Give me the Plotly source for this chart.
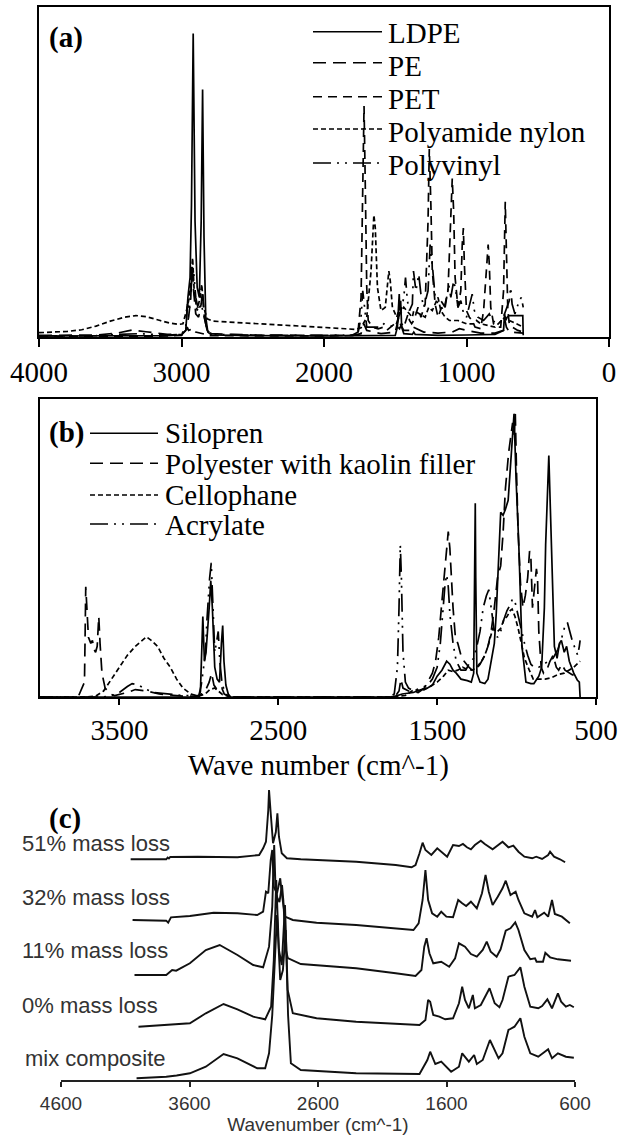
import plotly.graph_objects as go

W, H = 620, 1135

# ---------------- Panel (a): wavenumber (cm^-1), relative absorbance ----------------
a_ldpe = [(4000,0.3),(3500,0.3),(3100,0.4),(3000,0.6),(2970,2),(2955,12),(2940,18),(2930,40),(2918,92),
          (2905,35),(2890,15),(2875,12),(2862,35),(2852,75),(2842,30),(2830,6),(2815,1.5),(2790,0.6),
          (2500,0.4),(2000,0.3),(1800,0.3),(1500,0.5),(1485,3),(1472,13),(1468,8),(1462,11),(1455,3),
          (1440,1),(1380,0.8),(1370,1.5),(1360,0.8),(1200,0.5),(1000,0.6),(800,0.8),(740,2),(733,7),
          (725,5),(715,6),(700,6.5),(640,6.5),(605,6.5),(602,0.5)]
a_pe = [(4000,0.5),(3600,0.6),(3450,1.2),(3350,2.1),(3250,1.6),(3100,0.8),(3000,0.7),(2970,2),(2950,6),
        (2935,12),(2925,22),(2915,14),(2900,7),(2880,6),(2862,10),(2852,14),(2840,6),(2820,2),(2790,1),
        (2500,0.6),(2000,0.5),(1800,0.5),(1740,1),(1720,4),(1700,2),(1600,1),(1500,1.5),(1475,6),
        (1465,4),(1440,2),(1380,2),(1375,3),(1300,1.5),(1200,1.2),(1100,1.5),(1050,2.5),(1000,2),
        (900,1.2),(800,1.2),(740,2),(730,5),(720,3),(700,1.5),(602,1.2)]
a_pet = [(4000,0.2),(3500,0.2),(3100,0.3),(3000,0.5),(2970,1.5),(2960,3),(2950,2),(2920,2.5),(2900,1.5),
         (2850,1),(2800,0.4),(2000,0.3),(1780,0.5),(1760,2),(1740,12),(1730,40),(1719,70),(1710,45),
         (1700,15),(1690,5),(1660,3),(1620,2.5),(1580,3),(1560,2),(1505,4),(1470,2.5),(1455,4),(1440,3),
         (1410,7),(1400,5),(1385,4),(1370,5),(1340,9),(1320,6),(1290,10),(1270,35),(1261,57),(1250,40),
         (1240,20),(1220,10),(1200,6),(1175,9),(1160,8),(1130,14),(1115,30),(1100,48),(1090,38),
         (1080,18),(1060,9),(1040,14),(1030,28),(1022,33),(1015,22),(1000,8),(980,6),(960,5),(940,3),
         (900,2.5),(880,8),(870,14),(860,20),(848,28),(840,22),(830,9),(810,4),(790,3),(760,3),
         (740,14),(728,41),(720,25),(710,8),(700,4),(680,3),(640,2),(602,1.5)]
a_nylon = [(4000,1.3),(3900,1.5),(3800,1.7),(3700,2.2),(3600,3.3),(3500,4.8),(3400,6),(3320,6.5),
           (3250,6.2),(3150,5),(3080,4.2),(3020,3.8),(2990,4),(2965,8),(2945,12),(2930,20),(2922,24),
           (2910,13),(2890,8),(2870,12),(2858,16),(2845,9),(2820,5.5),(2780,4.8),(2600,4.4),(2400,3.9),
           (2200,3.4),(2000,2.9),(1850,2.5),(1780,2.3),(1740,2.8),(1700,6),(1670,20),(1650,37),(1640,33),
           (1625,15),(1600,8),(1570,9),(1545,20),(1535,17),(1520,9),(1490,6),(1475,8),(1465,7),(1440,9),
           (1420,8),(1380,6),(1370,8),(1330,7),(1290,6),(1265,9),(1240,8),(1200,12),(1180,8),(1150,6),
           (1120,5),(1060,5),(1000,4),(950,4),(930,5),(900,4),(800,3),(730,6),(700,5),(650,4),(602,3)]
a_pvc = [(4000,0.3),(3600,0.4),(3450,0.8),(3300,1),(3100,0.6),(3000,0.8),(2970,3),(2958,10),(2945,8),
         (2928,17),(2915,20),(2900,12),(2880,8),(2865,10),(2850,8),(2820,2),(2790,0.8),(2400,0.5),
         (2000,0.5),(1800,0.6),(1760,1.5),(1740,6),(1728,14),(1715,8),(1700,3),(1600,3),(1580,4),
         (1500,3),(1460,8),(1440,12),(1428,18),(1415,11),(1400,8),(1380,10),(1372,20),(1355,14),
         (1335,19),(1320,13),(1300,9),(1270,14),(1255,28),(1240,22),(1220,12),(1200,10),(1180,11),
         (1150,9),(1125,16),(1110,12),(1090,17),(1075,14),(1060,9),(1040,11),(1020,7),(1000,6),(970,11),
         (960,13),(945,8),(920,6),(880,5),(840,7),(820,5),(780,4),(750,5),(700,11),(690,15),(680,10),
         (660,7),(630,11),(615,12),(602,9)]
a_names = ["LDPE", "PE", "PET", "Polyamide nylon", "Polyvinyl"]
a_data = [a_ldpe, a_pe, a_pet, a_nylon, a_pvc]
a_ticks = [4000, 3000, 2000, 1000, 0]

# ---------------- Panel (b) ----------------
b_silopren = [(4000,0),(3000,0),(2990,2),(2980,20),(2975,27),(2965,12),(2955,15),(2935,30),(2925,39),
              (2915,30),(2900,10),(2885,6),(2870,5),(2858,18),(2850,24),(2842,12),(2830,4),(2815,1),
              (2800,0),(1800,0),(1760,0.3),(1720,1),(1650,1.5),(1600,2.5),(1560,3),(1530,4),(1500,7),
              (1470,9),(1440,12),(1420,11),(1400,9),(1380,8),(1350,6),(1310,5.5),(1285,5),(1270,8),
              (1262,40),(1260,65),(1257,40),(1250,8),(1230,5),(1200,4.5),(1180,6),(1165,11),(1140,18),
              (1128,28),(1110,50),(1100,62),(1085,61),(1070,63),(1053,66),(1033,80),(1016,95),(1003,73),
              (986,51),(966,17),(941,5),(910,4.5),(891,4.5),(860,7),(842,10),(825,30),(817,51),(797,81),
              (779,51),(762,17),(745,13),(730,18),(718,19),(700,15),(685,17),(668,12),(640,8),(618,5.7),
              (605,5),(600,0)]
b_polyester = [(4000,0),(3760,0),(3720,5),(3712,37),(3705,30),(3695,20),(3680,18),(3670,19),(3660,16),
               (3650,15),(3640,17),(3630,27),(3622,18),(3610,8),(3590,3),(3560,1),(3530,0.5),(3450,1.5),
               (3400,2.5),(3330,2),(3250,1),(3100,0.3),(3000,0.3),(2960,2),(2935,5),(2920,8),(2905,4),
               (2880,2),(2855,3),(2840,1),(2800,0),(1800,0),(1760,0.5),(1740,2),(1728,6),(1715,3),
               (1680,2),(1620,1.5),(1580,3),(1560,5),(1530,8),(1510,12),(1490,20),(1470,32),(1450,45),
               (1438,53),(1430,55.5),(1420,50),(1410,40),(1400,30),(1385,20),(1370,18),(1350,14),
               (1330,12),(1300,10),(1280,9),(1260,9),(1230,11),(1200,14),(1180,17),(1160,22),(1140,30),
               (1120,40),(1100,44),(1085,55),(1070,70),(1050,82),(1035,88),(1025,92),(1016,88),(1008,95),
               (1000,75),(990,55),(975,38),(960,30),(945,34),(930,40),(918,49),(910,47),(900,30),(888,36),
               (875,43),(868,40),(860,22),(845,10),(830,8),(810,9),(790,12),(770,14),(750,10),(735,9),
               (715,11),(695,9),(670,8),(650,7.5),(620,7),(600,7)]
b_cellophane = [(4000,0),(3700,0),(3650,0.3),(3600,2),(3550,6),(3500,10),(3450,14),(3400,17),(3350,19.5),
                (3330,20.2),(3300,19),(3260,17),(3220,13),(3180,10),(3140,6),(3100,3),(3050,1),(3000,0.3),
                (2960,1),(2930,2.5),(2900,3),(2880,2),(2850,0.8),(2800,0),(1800,0),(1700,0.5),(1645,2.5),
                (1600,2),(1560,3),(1500,5),(1460,7),(1430,9),(1400,8.5),(1370,9),(1340,10),(1320,9.5),
                (1280,9),(1250,10),(1220,12),(1200,14),(1180,17),(1160,21),(1150,23),(1120,22),(1100,23),
                (1080,26),(1060,27),(1040,29),(1028,29.5),(1010,27),(990,23),(970,18),(950,13),(920,9),
                (895,6),(860,6),(820,6),(780,6.5),(740,7.5),(700,8),(670,9),(640,10),(620,11),(600,12)]
b_acrylate = [(4000,0),(3600,0),(3550,0.5),(3500,1.5),(3450,3.5),(3420,4.5),(3380,4),(3330,2.5),
              (3280,1.5),(3200,1),(3100,0.5),(3000,0.5),(2985,4),(2970,10),(2958,15),(2950,25),(2940,34),
              (2932,40),(2922,45),(2912,30),(2900,15),(2890,18),(2878,22),(2868,12),(2855,5),(2840,2),
              (2820,0.5),(2800,0),(1800,0),(1770,1),(1750,10),(1740,30),(1732,51),(1725,40),(1715,15),
              (1700,5),(1680,3),(1650,2),(1600,3),(1560,4),(1530,6),(1500,10),(1480,18),(1460,30),
              (1450,38),(1440,41),(1430,37),(1420,28),(1400,18),(1380,12),(1350,9),(1320,9),(1300,11),
              (1270,13),(1250,17),(1230,22),(1210,30),(1190,34),(1175,36),(1160,30),(1140,22),(1120,20),
              (1100,22),(1080,26),(1060,29),(1040,31),(1025,33),(1010,32),(990,27),(970,22),(950,18),
              (930,14),(910,11),(890,10),(860,10),(830,11),(800,12),(770,13),(740,16),(715,20),(695,24),
              (680,25),(665,22),(650,19),(630,16),(615,14),(605,17),(600,19)]
b_names = ["Silopren", "Polyester with kaolin filler", "Cellophane", "Acrylate"]
b_data = [b_silopren, b_polyester, b_cellophane, b_acrylate]
b_ticks = [3500, 2500, 1500, 500]
b_xtitle = "Wave number (cm^-1)"

# ---------------- Panel (c): stacked spectra (offset units) ----------------
c_51 = [(4058,220.7),(3781,220.7),(3770,222.5),(3760,221.5),(3750,223),(3535,223.3),(3227,222.7),
        (3058,225),(3027,231.7),(3005,238.3),(2987,270),(2981,290),(2968,266.7),(2950,236.7),
        (2928,248),(2916,266.7),(2904,243.3),(2882,226.7),(2842,221.7),(2734,220.7),(2303,218.3),
        (1995,215),(1872,212.7),(1841,215),(1810,226.7),(1786,237.3),(1764,230),(1718,225),
        (1672,231.7),(1641,228.3),(1595,223.3),(1549,235),(1503,234),(1472,236),(1441,232.7),
        (1410,230.7),(1379,235),(1333,239.3),(1302,236),(1241,230.7),(1164,238.3),(1118,232.7),
        (1080,234.3),(1040,228.3),(994,223.3),(933,221.7),(902,223.3),(856,221),(809,225),(794,228.3),
        (763,223.3),(717,220.7),(677,217.7)]
c_32 = [(4043,160),(3781,159.3),(3766,157.3),(3744,162.7),(3597,164),(3412,167.3),(3227,166.7),
        (3073,165),(3027,168.3),(3005,188.3),(2987,186.7),(2968,220),(2956,230),(2944,193.3),
        (2919,186.7),(2894,201.7),(2882,186.7),(2857,163.3),(2796,160),(2611,157.3),(2303,155),
        (1995,151.7),(1857,150),(1817,156.7),(1786,180),(1764,210),(1743,180),(1712,166.7),
        (1672,163.3),(1641,168.3),(1601,163.3),(1549,162.7),(1509,180),(1478,176.7),(1447,174),
        (1410,178.3),(1364,171.7),(1324,186.7),(1296,205),(1271,188.3),(1241,175),(1201,183.3),
        (1164,191.7),(1139,199.3),(1102,185),(1062,188.3),(1040,180),(994,166.7),(933,163.3),
        (911,170),(893,162.7),(840,167.3),(809,163.3),(779,180),(757,166),(702,163.3),(640,156.7)]
c_11 = [(4028,105),(3781,105),(3735,110),(3704,109.3),(3597,116.7),(3473,130),(3365,135),(3227,125),
        (3104,115),(3027,112.7),(2981,133.3),(2956,173.3),(2941,235),(2930,190),(2916,182),
        (2900,178),(2880,195),(2870,180),(2850,130),(2835,122),(2734,116),(2303,111.7),(1995,106.7),
        (1841,104),(1795,110),(1773,133.3),(1755,141.7),(1733,126.7),(1703,116.7),(1641,118.3),
        (1579,113.3),(1533,121.7),(1503,136.7),(1456,133.3),(1410,126),(1364,123.3),(1318,130),
        (1287,138.3),(1256,128.3),(1210,123.3),(1179,130.7),(1139,149.3),(1102,151.7),(1065,157.7),
        (1040,150),(994,130),(948,120.7),(911,121.7),(899,118.3),(849,118.3),(831,127.3),(794,122.7),
        (733,120.7),(631,119.3)]
c_0 = [(3997,53.3),(3781,55),(3597,56.7),(3473,66.7),(3335,76),(3227,70.7),(3104,63.3),(3011,60.7),
       (2965,73.3),(2944,120),(2925,200),(2904,130),(2882,115),(2857,175),(2836,90),(2796,66.7),
       (2611,61.7),(2303,58.3),(1995,56),(1810,55),(1764,60),(1743,80),(1727,78.3),(1703,65),
       (1656,63.3),(1610,60.7),(1549,61.7),(1503,76.7),(1478,93.3),(1456,80),(1426,71.7),(1395,85),
       (1379,71.7),(1333,75),(1265,91.7),(1225,76.7),(1188,72.7),(1164,80),(1118,103.3),(1071,105),
       (1025,112.7),(994,93.3),(948,73.3),(886,71.7),(856,74),(815,80.7),(779,71.7),(733,86.7),
       (708,78.3),(671,73.3),(640,75),(609,72.7)]
c_mix = [(4012,1.7),(3900,2.2),(3781,3.3),(3700,4.5),(3597,6.7),(3473,13.3),(3335,26),(3227,21.7),
         (3073,11.7),(3011,11.7),(2981,26.7),(2956,65),(2934,130),(2919,165),(2894,100),(2873,110),
         (2851,150),(2833,65),(2811,16.7),(2734,10),(2303,6.7),(1810,6),(1749,20),(1727,28.3),
         (1687,16),(1641,18.3),(1564,8.3),(1503,13.3),(1478,26.7),(1426,18.3),(1385,25),(1364,16),
         (1318,20),(1262,40),(1195,21.7),(1164,26.7),(1118,50),(1071,53.3),(1025,61.7),(994,43.3),
         (948,26.7),(886,23.3),(809,30.7),(779,21.7),(733,26.7),(671,23.3),(609,22.3)]
c_names = ["51% mass loss", "32% mass loss", "11% mass loss", "0% mass loss", "mix composite"]
c_data = [c_51, c_32, c_11, c_0, c_mix]
c_ticks = [4600, 3600, 2600, 1600, 600]

# ---------------- styles ----------------
SERIF = "Liberation Serif, Times New Roman, Times, serif"
SANS = "Liberation Sans, Arial, Helvetica, sans-serif"
a_dash = ["solid", "13px,7px", "9px,6px", "5px,3px", "18px,6px,2px,6px,2px,6px"]
b_dash = ["solid", "13px,7px", "5px,3px", "18px,6px,2px,6px,2px,6px"]

fig = go.Figure()
for pts, dash, name in zip(a_data, a_dash, a_names):
    fig.add_trace(go.Scatter(x=[p[0] for p in pts], y=[p[1] for p in pts], mode="lines", name=name,
                             line=dict(color="black", width=1.7, dash=dash), xaxis="x", yaxis="y",
                             showlegend=False))
for pts, dash, name in zip(b_data, b_dash, b_names):
    fig.add_trace(go.Scatter(x=[p[0] for p in pts], y=[p[1] for p in pts], mode="lines", name=name,
                             line=dict(color="black", width=1.7, dash=dash), xaxis="x2", yaxis="y2",
                             showlegend=False))
for pts, name in zip(c_data, c_names):
    fig.add_trace(go.Scatter(x=[p[0] for p in pts], y=[p[1] for p in pts], mode="lines", name=name,
                             line=dict(color="#111111", width=1.9), xaxis="x3", yaxis="y3",
                             showlegend=False))


def px(x):
    return x / W


def py(y):
    return 1 - y / H


box_axis = dict(showline=True, mirror=True, linecolor="black", linewidth=2.3,
                showgrid=False, zeroline=False, automargin=False)

fig.update_layout(
    template="none",
    width=W, height=H, margin=dict(l=0, r=0, t=0, b=0, pad=0, autoexpand=False),
    paper_bgcolor="white", plot_bgcolor="white", showlegend=False,
    xaxis=dict(**box_axis, domain=[px(39), px(609)], range=[4000, 0], anchor="y",
               ticks="outside", ticklen=8, tickwidth=2, tickcolor="black",
               tickvals=a_ticks, ticktext=[str(t) for t in a_ticks],
               tickfont=dict(family=SERIF, size=29, color="black")),
    yaxis=dict(**box_axis, domain=[py(337), py(7)], range=[0, 100], anchor="x",
               showticklabels=False, ticks=""),
    xaxis2=dict(**box_axis, domain=[px(40), px(596)], range=[4000, 500], anchor="y2",
                ticks="outside", ticklen=6, tickwidth=2, tickcolor="black",
                tickvals=b_ticks, ticktext=[str(t) for t in b_ticks],
                tickfont=dict(family=SERIF, size=29, color="black")),
    yaxis2=dict(**box_axis, domain=[py(697), py(399)], range=[0, 100], anchor="x2",
                showticklabels=False, ticks=""),
    xaxis3=dict(showline=True, mirror=False, linecolor="#222222", linewidth=1.5, showgrid=False,
                zeroline=False, automargin=False, domain=[px(61), px(575)], range=[4600, 600],
                anchor="y3", ticks="outside", ticklen=5, tickwidth=1.5, tickcolor="#222222",
                tickvals=c_ticks, ticktext=[str(t) for t in c_ticks],
                tickfont=dict(family=SANS, size=19, color="#333333"),
                title=dict(text="Wavenumber (cm^-1)", font=dict(family=SANS, size=19, color="#333333"),
                           standoff=2)),
    yaxis3=dict(visible=False, automargin=False, domain=[py(1080), py(785)], range=[0, 295],
                anchor="x3"),
)

ann = []
shapes = []
# panel labels
ann.append(dict(text="<b>(a)</b>", x=px(47), y=py(38), xanchor="left", yanchor="middle"))
ann.append(dict(text="<b>(b)</b>", x=px(47), y=py(432), xanchor="left", yanchor="middle"))
ann.append(dict(text="<b>(c)</b>", x=px(47), y=py(818), xanchor="left", yanchor="middle"))
# panel (b) x-axis title
ann.append(dict(text=b_xtitle, x=px(318), y=py(765), xanchor="center", yanchor="middle"))

# legend (a)
a_leg_line_y = [31.7, 62.7, 96.7, 129, 163]
a_leg_text_y = [33.5, 66, 99, 132, 165]
for name, dash, ly, ty in zip(a_names, a_dash, a_leg_line_y, a_leg_text_y):
    shapes.append(dict(type="line", xref="paper", yref="paper", x0=px(313), x1=px(382), y0=py(ly), y1=py(ly),
                       line=dict(color="black", width=1.6, dash=dash)))
    ann.append(dict(text=name, x=px(386), y=py(ty), xanchor="left", yanchor="middle"))

# legend (b)
b_leg_line_y = [433.3, 463.3, 495, 524]
b_leg_text_y = [433, 463.5, 494.5, 525]
for name, dash, ly, ty in zip(b_names, b_dash, b_leg_line_y, b_leg_text_y):
    shapes.append(dict(type="line", xref="paper", yref="paper", x0=px(90), x1=px(158), y0=py(ly), y1=py(ly),
                       line=dict(color="black", width=1.6, dash=dash)))
    ann.append(dict(text=name, x=px(163), y=py(ty), xanchor="left", yanchor="middle"))

for a in ann:
    a.update(xref="paper", yref="paper", showarrow=False,
             font=dict(family=SERIF, size=29, color="black"))

# panel (c) labels
c_label_x = [20, 20, 20, 20, 23]
c_label_y = [843, 897, 950, 1005, 1058]
for name, lx, ly in zip(c_names, c_label_x, c_label_y):
    ann.append(dict(text=name, x=px(lx), y=py(ly), xref="paper", yref="paper", xanchor="left",
                    yanchor="middle", showarrow=False, font=dict(family=SANS, size=22, color="#333333")))

fig.update_layout(annotations=ann, shapes=shapes)
fig.write_html("out.html")
